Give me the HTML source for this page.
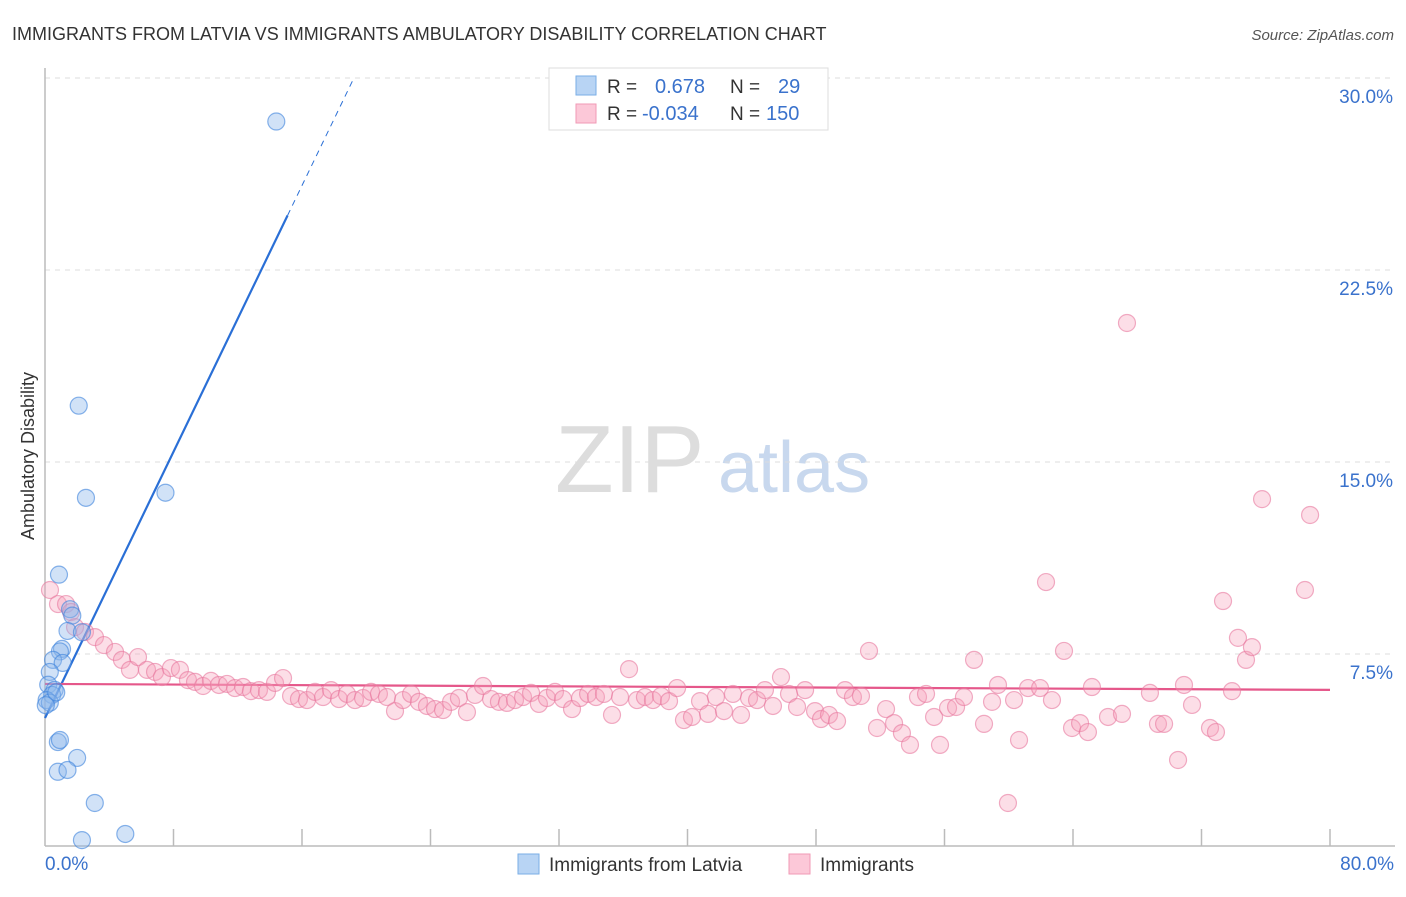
<!DOCTYPE html>
<html><head><meta charset="utf-8"><style>
body{margin:0;background:#fff;font-family:"Liberation Sans",sans-serif}
svg text{font-family:"Liberation Sans",sans-serif}
</style></head><body>
<svg id="chart" width="1406" height="892" xmlns="http://www.w3.org/2000/svg">
<text x="12" y="40" font-size="18" fill="#333">IMMIGRANTS FROM LATVIA VS IMMIGRANTS AMBULATORY DISABILITY CORRELATION CHART</text>
<text x="1394" y="40" font-size="15" fill="#555" text-anchor="end" font-style="italic">Source: ZipAtlas.com</text>
<g><text x="555" y="492" font-size="96" fill="#ddd" font-family="Liberation Serif">ZIP</text><text x="718" y="492" font-size="72" fill="#c8d8ee">atlas</text></g>
<g id="grid"></g>
<g id="axes"></g>
<text transform="translate(34,456) rotate(-90)" font-size="18" fill="#333" text-anchor="middle">Ambulatory Disability</text>
<g id="lines"></g>
<g id="pts"></g>
<g>
<rect x="549" y="68" width="279" height="62" fill="#fff" stroke="#ddd"/>
<rect x="576" y="76" width="20" height="19" fill="#b8d4f4" stroke="#7aaee6"/>
<rect x="576" y="104" width="20" height="19" fill="#fcc8d8" stroke="#f09ab6"/>
<text x="607" y="93" font-size="19" fill="#333">R =</text><text x="655" y="93" font-size="20" fill="#3a72cc">0.678</text>
<text x="730" y="93" font-size="19" fill="#333">N =</text><text x="778" y="93" font-size="20" fill="#3a72cc">29</text>
<text x="607" y="120" font-size="19" fill="#333">R =</text><text x="642" y="120" font-size="20" fill="#3a72cc">-0.034</text>
<text x="730" y="120" font-size="19" fill="#333">N =</text><text x="766" y="120" font-size="20" fill="#3a72cc">150</text>
</g>
<g>
<rect x="518" y="854" width="21" height="20" fill="#b8d4f4" stroke="#7aaee6"/>
<text x="549" y="871" font-size="19" fill="#333">Immigrants from Latvia</text>
<rect x="789" y="854" width="21" height="20" fill="#fcc8d8" stroke="#f09ab6"/>
<text x="820" y="871" font-size="19" fill="#333">Immigrants</text>
</g>
</svg>
<script>
const yTicks=[7.5,15,22.5,30];
const yTickLabels=["7.5%","15.0%","22.5%","30.0%"];
const xTickLabels=["0.0%","80.0%"];
const blueX=[14.4,2.1,2.55,7.5,0.87,1.56,1.7,1.4,2.3,1.06,0.93,0.5,1.1,0.3,0.2,0.6,0.44,0.1,0.3,0.8,0.93,2.0,0.8,1.4,3.1,5.0,2.3,0.7,0.05];
const blueY=[28.3,17.2,13.6,13.8,10.6,9.25,9.0,8.4,8.35,7.7,7.6,7.27,7.15,6.8,6.3,6.1,5.9,5.7,5.6,4.06,4.14,3.44,2.9,2.97,1.68,0.47,0.23,6.0,5.5];
const pinkX=[.31,.81,1.31,1.62,1.87,2.49,3.11,3.67,4.36,4.79,5.29,5.79,6.35,6.85,7.28,7.84,8.40,8.90,9.34,9.84,10.33,10.83,11.33,11.83,12.33,12.82,13.32,13.82,14.32,14.82,15.32,15.81,16.31,16.81,17.31,17.81,18.30,18.80,19.30,19.80,20.30,20.79,21.29,21.79,22.29,22.79,23.28,23.78,24.28,24.78,25.28,25.77,26.27,26.77,27.27,27.77,28.26,28.76,29.26,29.76,30.26,30.75,31.25,31.75,32.25,32.81,33.31,33.81,34.30,34.80,35.30,35.80,36.36,36.86,37.35,37.85,38.35,38.85,39.35,39.78,40.28,40.78,41.28,41.77,42.27,42.83,43.33,43.83,44.33,44.82,45.32,45.82,46.32,46.82,47.32,47.94,48.31,48.81,49.31,49.81,50.30,50.80,51.30,51.80,52.36,52.86,53.35,53.85,54.35,54.85,55.35,55.72,56.22,56.72,57.21,57.84,58.46,58.96,59.33,59.95,60.33,60.64,61.20,61.95,62.32,62.69,63.44,63.94,64.44,64.93,65.18,66.18,67.05,67.36,68.79,69.29,69.67,70.54,70.91,71.41,72.53,72.90,73.34,73.90,74.27,74.77,75.14,75.77,78.44,78.76];
const pinkY=[10.0,9.45,9.45,9.14,8.55,8.36,8.16,7.85,7.58,7.27,6.88,7.38,6.88,6.80,6.60,6.95,6.88,6.48,6.41,6.25,6.45,6.29,6.33,6.17,6.21,6.05,6.09,6.02,6.37,6.56,5.86,5.74,5.70,6.02,5.82,6.09,5.74,5.94,5.70,5.78,6.02,5.94,5.82,5.27,5.70,5.94,5.63,5.47,5.35,5.31,5.63,5.78,5.23,5.90,6.25,5.74,5.63,5.59,5.70,5.82,5.98,5.55,5.78,6.02,5.74,5.35,5.78,5.94,5.82,5.94,5.12,5.82,6.91,5.70,5.82,5.70,5.86,5.66,6.17,4.92,5.04,5.66,5.16,5.82,5.27,5.94,5.12,5.78,5.70,6.09,5.47,6.60,5.94,5.43,6.09,5.27,4.96,5.12,4.88,6.09,5.82,5.86,7.62,4.61,5.35,4.80,4.41,3.95,5.82,5.94,5.04,3.95,5.39,5.43,5.82,7.27,4.77,5.63,6.29,1.68,5.70,4.14,6.17,6.17,10.31,5.70,7.62,4.61,4.80,4.45,6.21,5.04,5.16,20.43,5.98,4.77,4.77,3.36,6.29,5.51,4.61,4.45,9.57,6.05,8.13,7.27,7.77,13.55,10.0,12.93];
const blueFit=[5.0,1.3];
const pinkFit=[6.33,-0.0029];
const X=v=>45+v*1285/80, Y=v=>846-v*768/30;
const NS="http://www.w3.org/2000/svg";
function mk(tag,parent,attrs){const e=document.createElementNS(NS,tag);for(const k in attrs)e.setAttribute(k,attrs[k]);document.getElementById(parent).appendChild(e);return e;}
yTicks.forEach((t,i)=>{
 const l=mk('line','grid',{x1:45,x2:1395,y1:Y(t),y2:Y(t),stroke:'#ddd','stroke-dasharray':'5,5'});
 
 
 const tx=mk('text','grid',{x:1393,y:Y(t)+25,'font-size':19,fill:'#3a72cc','text-anchor':'end'});
 tx.textContent=yTickLabels[i];
 
 
});
mk('line','axes',{x1:45,x2:45,y1:68,y2:846,stroke:'#bbb','stroke-width':1.5});
mk('line','axes',{x1:45,x2:1395,y1:846,y2:846,stroke:'#bbb','stroke-width':1.5});
for(let i=1;i<=10;i++){const t=mk('line','axes',{x1:X(i*8),x2:X(i*8),y1:829,y2:846,stroke:'#bbb','stroke-width':1.5});}
[[0,'start',45],[80,'end',1394]].forEach((a,i)=>{const t=mk('text','axes',{x:a[2],y:870,'font-size':19,fill:'#3a72cc','text-anchor':a[1]});t.textContent=xTickLabels[i];});
pinkX.forEach((x,i)=>{const c=mk('circle','pts',{cx:X(x),cy:Y(pinkY[i]),r:8.5,fill:'rgba(246,160,186,0.35)',stroke:'rgba(232,120,158,0.6)','stroke-width':1.2});
 
 });
blueX.forEach((x,i)=>{const c=mk('circle','pts',{cx:X(x),cy:Y(blueY[i]),r:8.5,fill:'rgba(140,182,236,0.4)',stroke:'rgba(60,130,220,0.6)','stroke-width':1.2});
 
 });
const bl=mk('line','lines',{x1:X(0),y1:Y(blueFit[0]),x2:X(15.1),y2:Y(blueFit[0]+blueFit[1]*15.1),stroke:'#2a6fd6','stroke-width':2.2});


const bx=(30-blueFit[0])/blueFit[1];
const bd=mk('line','lines',{x1:X(15.1),y1:Y(blueFit[0]+blueFit[1]*15.1),x2:X(bx),y2:Y(30),stroke:'#2a6fd6','stroke-width':1,'stroke-dasharray':'6,5'});


const pl=mk('line','lines',{x1:X(0),y1:Y(pinkFit[0]),x2:X(80),y2:Y(pinkFit[0]+pinkFit[1]*80),stroke:'#e5578a','stroke-width':2.2});


</script>
</body></html>
